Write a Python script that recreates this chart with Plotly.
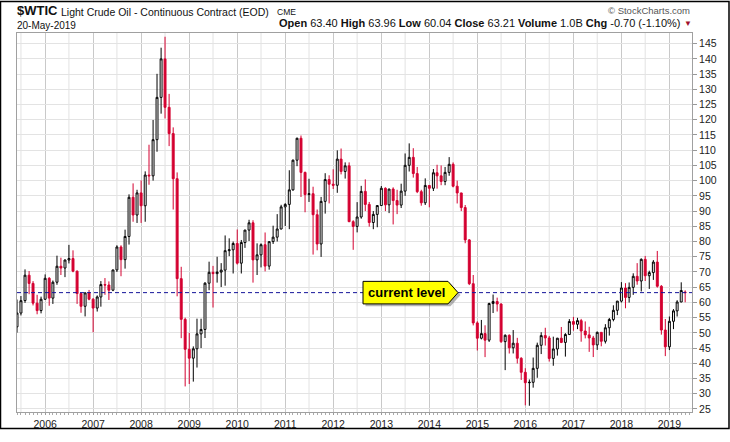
import pandas as pd
import plotly.graph_objects as go

# monthly bars, Jun 2005 .. May 2019
months = pd.date_range("2005-06-01", "2019-05-01", freq="MS")

opens = [
    51.97, 56.50, 60.60, 68.94, 66.24, 59.76, 57.32,  # 2005 (Jun-Dec)
    61.04, 67.92, 61.41, 66.63, 71.88, 71.29, 73.93, 74.40, 70.26, 62.91, 58.73, 63.13,
    61.05, 58.14, 61.79, 65.87, 65.71, 64.01, 70.68, 78.21, 74.04, 81.66, 94.53, 88.71,
    95.98, 91.75, 101.84, 101.58, 113.46, 127.35, 140.00, 124.08, 115.46, 100.64, 67.81, 54.43,
    44.60, 41.68, 44.76, 49.66, 51.12, 66.31, 69.89, 69.45, 69.96, 70.61, 77.00, 77.28,
    79.36, 72.89, 79.66, 83.76, 86.15, 73.97, 75.63, 78.95, 71.92, 79.97, 81.43, 84.11,
    91.38, 92.19, 96.97, 106.72, 113.93, 102.70, 95.42, 95.70, 88.81, 79.20, 93.19, 100.36,
    98.83, 98.48, 107.07, 103.02, 104.87, 86.53, 84.96, 88.06, 96.47, 92.19, 86.24, 88.91,
    91.82, 97.49, 92.05, 97.23, 93.46, 91.97, 96.56, 105.03, 107.65, 102.33, 96.38, 92.72,
    98.42, 97.49, 102.59, 101.58, 99.74, 102.71, 105.37, 98.17, 95.96, 91.16, 80.54, 66.15,
    53.27, 48.24, 49.76, 47.60, 59.63, 60.30, 59.47, 47.12, 49.20, 45.09, 46.59, 41.65,
    37.04, 33.62, 33.75, 38.34, 45.92, 49.10, 48.33, 41.60, 44.70, 48.24, 46.86, 49.44,
    53.72, 52.81, 54.01, 50.60, 49.33, 48.32, 46.04, 50.17, 47.23, 51.67, 54.38, 57.40,
    60.42, 64.73, 61.64, 64.94, 68.57, 67.04, 74.15, 68.76, 69.80, 73.25, 65.31, 50.93,
    45.41, 53.79, 57.22, 60.14, 63.40,  # 2019 (Jan-May)
]

highs = [
    60.95, 62.10, 70.85, 70.30, 67.00, 62.50, 61.90,
    69.20, 68.30, 67.20, 75.35, 74.70, 74.10, 78.90, 77.10, 70.50, 63.20, 63.30, 64.10,
    61.40, 62.30, 67.00, 68.00, 66.90, 70.70, 78.77, 78.77, 83.90, 95.50, 99.10, 97.00,
    100.09, 103.05, 111.80, 119.93, 135.09, 143.67, 147.27, 128.50, 117.50, 102.70, 71.70, 55.00,
    50.00, 45.55, 54.66, 54.65, 66.65, 73.38, 72.00, 75.00, 72.90, 82.00, 81.05, 80.00,
    83.95, 80.51, 83.85, 87.15, 87.00, 79.40, 79.40, 82.97, 80.00, 85.20, 89.00, 92.06,
    92.58, 103.41, 106.95, 114.10, 114.83, 102.97, 100.62, 98.00, 90.52, 94.65, 102.44, 101.77,
    103.74, 109.95, 110.55, 106.00, 106.00, 87.00, 92.94, 98.29, 100.42, 93.00, 90.00, 91.99,
    98.24, 97.80, 97.35, 97.80, 97.00, 99.00, 108.93, 112.24, 110.66, 104.50, 97.00, 100.75,
    98.50, 103.81, 105.22, 104.99, 104.50, 107.73, 106.00, 100.00, 96.00, 92.00, 80.80, 69.00,
    53.80, 54.24, 52.48, 59.90, 62.58, 61.57, 59.70, 49.50, 49.50, 50.92, 48.36, 42.00,
    38.39, 34.69, 41.90, 46.78, 50.21, 51.67, 49.00, 48.75, 48.35, 51.93, 49.90, 54.51,
    55.24, 54.94, 54.59, 53.76, 52.00, 49.00, 50.43, 50.20, 52.86, 54.89, 59.05, 60.51,
    66.66, 66.32, 66.55, 69.56, 72.90, 74.46, 75.27, 70.41, 73.90, 76.90, 65.69, 54.55,
    55.37, 57.81, 60.73, 66.60, 63.96,
]

lows = [
    50.08, 55.72, 59.85, 62.70, 59.00, 56.10, 56.40,
    60.80, 58.90, 59.50, 65.80, 69.00, 68.30, 72.80, 69.90, 59.50, 56.60, 55.40, 60.70,
    50.20, 57.00, 58.60, 62.50, 60.80, 63.70, 70.00, 68.60, 71.10, 79.00, 86.50, 86.10,
    86.11, 86.50, 98.65, 100.00, 109.50, 122.00, 120.42, 111.34, 90.51, 62.00, 48.25, 32.40,
    33.20, 33.98, 38.60, 45.00, 48.30, 64.00, 58.32, 66.50, 65.05, 65.50, 75.20, 69.50,
    72.43, 69.50, 77.91, 80.16, 66.50, 69.00, 71.50, 70.20, 70.76, 79.20, 80.00, 84.00,
    85.11, 84.05, 96.69, 104.75, 94.63, 89.61, 93.00, 75.71, 77.11, 74.95, 89.17, 92.52,
    97.24, 96.00, 102.05, 100.68, 86.36, 77.28, 83.00, 87.50, 90.00, 84.89, 84.05, 84.70,
    91.70, 90.00, 89.33, 85.61, 89.00, 91.00, 95.00, 103.00, 101.00, 95.90, 91.77, 92.00,
    91.24, 96.60, 97.37, 98.50, 98.50, 101.60, 97.80, 92.50, 90.00, 79.44, 65.69, 52.44,
    44.20, 47.85, 42.03, 47.00, 56.51, 57.00, 46.68, 37.75, 43.21, 43.23, 39.93, 34.53,
    26.19, 26.05, 32.00, 35.24, 43.03, 45.83, 40.57, 39.19, 42.52, 46.63, 42.20, 49.30,
    50.71, 51.22, 47.09, 48.18, 43.76, 42.05, 44.40, 45.58, 46.50, 49.10, 53.78, 55.82,
    59.95, 58.07, 59.95, 62.48, 65.80, 63.59, 67.03, 64.43, 67.40, 64.86, 49.41, 42.36,
    44.35, 51.23, 55.37, 60.05, 60.04,
]

closes = [
    56.50, 60.57, 68.94, 66.24, 59.76, 57.32, 61.04,
    67.92, 61.41, 66.63, 71.88, 71.29, 73.93, 74.40, 70.26, 62.91, 58.73, 63.13, 61.05,
    58.14, 61.79, 65.87, 65.71, 64.01, 70.68, 78.21, 74.04, 81.66, 94.53, 88.71, 95.98,
    91.75, 101.84, 101.58, 113.46, 127.35, 140.00, 124.08, 115.46, 100.64, 67.81, 54.43, 44.60,
    41.68, 44.76, 49.66, 51.12, 66.31, 69.89, 69.45, 69.96, 70.61, 77.00, 77.28, 79.36,
    72.89, 79.66, 83.76, 86.15, 73.97, 75.63, 78.95, 71.92, 79.97, 81.43, 84.11, 91.38,
    92.19, 96.97, 106.72, 113.93, 102.70, 95.42, 95.70, 88.81, 79.20, 93.19, 100.36, 98.83,
    98.48, 107.07, 103.02, 104.87, 86.53, 84.96, 88.06, 96.47, 92.19, 86.24, 88.91, 91.82,
    97.49, 92.05, 97.23, 93.46, 91.97, 96.56, 105.03, 107.65, 102.33, 96.38, 92.72, 98.42,
    97.49, 102.59, 101.58, 99.74, 102.71, 105.37, 98.17, 95.96, 91.16, 80.54, 66.15, 53.27,
    48.24, 49.76, 47.60, 59.63, 60.30, 59.47, 47.12, 49.20, 45.09, 46.59, 41.65, 37.04,
    33.62, 33.75, 38.34, 45.92, 49.10, 48.33, 41.60, 44.70, 48.24, 46.86, 49.44, 53.72,
    52.81, 54.01, 50.60, 49.33, 48.32, 46.04, 50.17, 47.23, 51.67, 54.38, 57.40, 60.42,
    64.73, 61.64, 64.94, 68.57, 67.04, 74.15, 68.76, 69.80, 73.25, 65.31, 50.93, 45.41,
    53.79, 57.22, 60.14, 63.91, 63.21,
]

years = list(range(2006, 2020))
year_ticks = [f"{y}-01-01" for y in years]
year_labels = [str(y) for y in years]
mid_year = [f"{y}-07-01" for y in range(2005, 2019)]
price_ticks = list(range(25, 150, 5))

current_level = 63.21
header = [("Open", "63.40"), ("High", "63.96"), ("Low", "60.04"), ("Close", "63.21"),
          ("Volume", "1.0B"), ("Chg", "-0.70 (-1.10%)")]

RED = "#d40030"
FONT = "Liberation Sans, Arial, sans-serif"

# page geometry (pixels) -> paper coords
W, H = 730, 442
L, R, T, B = 17, 38, 33, 18
pw, ph = W - L - R, H - T - B


def px(x):
    return (x - L) / pw


def py(y):
    return (H - B - y) / ph


fig = go.Figure(go.Candlestick(
    x=months, open=opens, high=highs, low=lows, close=closes,
    increasing=dict(line=dict(color="#000000", width=1), fillcolor="#ffffff"),
    decreasing=dict(line=dict(color=RED, width=1), fillcolor=RED),
    whiskerwidth=0, hoverinfo="skip", showlegend=False,
))

shapes = []
# lighter mid-year gridlines
for d in mid_year:
    shapes.append(dict(type="line", xref="x", yref="paper", x0=d, x1=d, y0=0, y1=1,
                       line=dict(color="#e2e2e2", width=1), layer="below"))
# current level dashed line
shapes.append(dict(type="line", xref="paper", yref="y", x0=0, x1=1,
                   y0=current_level, y1=current_level,
                   line=dict(color="#14149a", width=1, dash="4px,3px")))
# callout (shadow + yellow arrow box)
half = 3.7
bx0, bx1, tip = px(363), px(448), px(458)


def arrow_path(dx, dy):
    return (f"M {bx0 + dx},{current_level + half - dy} L {bx1 + dx},{current_level + half - dy} "
            f"L {tip + dx},{current_level - dy} L {bx1 + dx},{current_level - half - dy} "
            f"L {bx0 + dx},{current_level - half - dy} Z")


shapes.append(dict(type="path", xref="paper", yref="y", path=arrow_path(2.5 / pw, 0.8),
                   fillcolor="rgba(90,90,90,0.45)", line=dict(width=0)))
shapes.append(dict(type="path", xref="paper", yref="y", path=arrow_path(0, 0),
                   fillcolor="#ffff00", line=dict(color="#000000", width=1)))
# outer frame of the whole picture
shapes.append(dict(type="rect", xref="paper", yref="paper",
                   x0=px(0.5), x1=px(729), y0=py(441), y1=py(0.5),
                   line=dict(color="#000000", width=1.5)))

header_text = " ".join(f"<b>{k}</b> {v}" for k, v in header)

annotations = [
    dict(text="<b>$WTIC</b>", x=px(16), y=py(10), font=dict(size=13)),
    dict(text="Light Crude Oil - Continuous Contract (EOD)", x=px(60), y=py(11),
         font=dict(size=10.5)),
    dict(text="CME", x=px(276), y=py(11), font=dict(size=8.5)),
    dict(text="20-May-2019", x=px(16), y=py(25), font=dict(size=10)),
    dict(text=header_text, x=px(682), y=py(23), xanchor="right", font=dict(size=11)),
    dict(text="▼", x=px(683), y=py(23), font=dict(size=8, color="#a0102c")),
    dict(text="© StockCharts.com", x=px(691), y=py(10), xanchor="right",
         font=dict(size=9.5, color="#555555")),
]
for a in annotations:
    a.update(xref="paper", yref="paper", showarrow=False, yanchor="middle", borderpad=0)
    a.setdefault("xanchor", "left")
annotations.append(dict(text="<b>current level</b>", xref="paper", yref="y",
                        x=px(406), y=current_level, showarrow=False,
                        font=dict(size=13, color="#000000")))

fig.update_layout(
    width=W, height=H,
    margin=dict(l=L, r=R, t=T, b=B),
    paper_bgcolor="#ffffff", plot_bgcolor="#ffffff",
    font=dict(family=FONT, color="#111111"),
    boxgap=0.25,
    shapes=shapes, annotations=annotations,
    xaxis=dict(
        type="date", range=["2005-06-01", "2019-06-22"],
        tickmode="array", tickvals=year_ticks, ticktext=year_labels,
        showgrid=True, gridcolor="#c9c9c9", gridwidth=1,
        ticks="outside", ticklen=2, tickcolor="#999999",
        minor=dict(dtick="M1", tick0="2005-06-01", ticks="outside", ticklen=2,
                   tickcolor="#aaaaaa", showgrid=False),
        showline=True, linecolor="#a0a0a0", mirror=True,
        tickfont=dict(size=10.5, color="#222222"),
        rangeslider=dict(visible=False), fixedrange=True,
    ),
    yaxis=dict(
        side="right", range=[24, 148.5],
        tickmode="array", tickvals=price_ticks,
        showgrid=True, gridcolor="#e3e3e3", gridwidth=1,
        ticks="outside", ticklen=4, tickcolor="#999999",
        showline=True, linecolor="#a0a0a0", mirror=True,
        tickfont=dict(size=10.5, color="#222222"),
        zeroline=False, fixedrange=True,
    ),
)

# the page body has a default margin; drop it so the chart sits at the window corner
fig.write_html("out.html", config={"displayModeBar": False},
               post_script="document.body.style.margin='0';")
